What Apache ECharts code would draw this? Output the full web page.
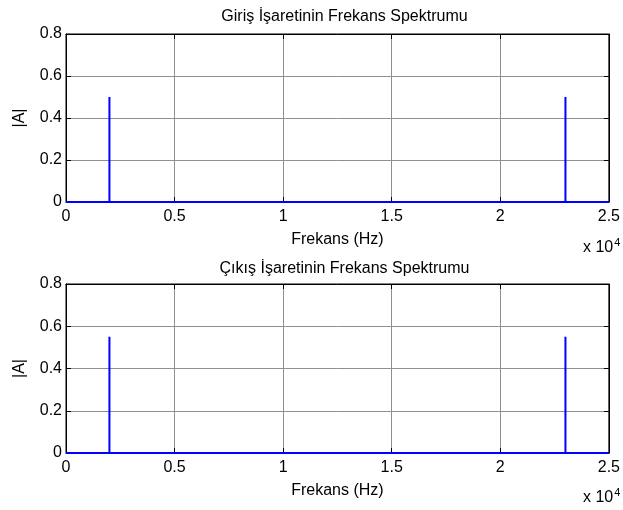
<!DOCTYPE html>
<html>
<head>
<meta charset="utf-8">
<script src="https://cdn.jsdelivr.net/npm/echarts@6/dist/echarts.min.js"></script>
<style>html,body{margin:0;padding:0;background:#fff;}#c{width:623px;height:510px;}</style>
</head>
<body>
<div id="c"></div>
<script>
// Data (frequency in Hz, amplitude |A|)
var titles = ['Giriş İşaretinin Frekans Spektrumu', 'Çıkış İşaretinin Frekans Spektrumu'];
var freqHz = [0, 2000, 2000, 2000, 23000, 23000, 23000, 25000];
var inputAmp = [0, 0, 0.5, 0, 0, 0.5, 0, 0];
var outputAmp = [0, 0, 0.55, 0, 0, 0.55, 0, 0];
var xTickLabels = ['0', '0.5', '1', '1.5', '2', '2.5'];
var yTickLabels = ['0', '0.2', '0.4', '0.6', '0.8'];
var xLabel = 'Frekans (Hz)';
var yLabel = '|A|';

function pairs(xs, ys) { return xs.map(function (x, i) { return [x, ys[i]]; }); }

var FONT = 'Liberation Sans, Arial, sans-serif';
var chart = echarts.init(document.getElementById('c'), null, { renderer: 'canvas' });

var grids = [
  { left: 66, right: 10, top: 34, height: 168 },
  { left: 66, right: 10, top: 284, height: 169 }
];
var xAxes = [], yAxes = [], series = [], graphics = [];
grids.forEach(function (g, gi) {
  g.show = true; g.borderColor = '#000'; g.borderWidth = 1; g.backgroundColor = '#fff';
  var tick = { show: true, inside: true, length: 5, lineStyle: { color: '#000' } };
  xAxes.push({
    type: 'value', gridIndex: gi, min: 0, max: 25000, interval: 5000, position: 'bottom',
    axisLine: { show: true, onZero: false, lineStyle: { color: '#000' } },
    axisTick: tick,
    axisLabel: { color: '#000', fontSize: 16, fontFamily: FONT, margin: 7,
      formatter: function (v) { return xTickLabels[Math.round(v / 5000)]; } },
    splitLine: { show: true, lineStyle: { color: '#8f8f8f', width: 1 } },
    name: xLabel, nameLocation: 'middle', nameGap: 30,
    nameTextStyle: { color: '#000', fontSize: 16, fontFamily: FONT }
  });
  xAxes.push({
    type: 'value', gridIndex: gi, min: 0, max: 25000, interval: 5000, position: 'top',
    axisLine: { show: true, onZero: false, lineStyle: { color: '#000' } },
    axisTick: tick, axisLabel: { show: false }, splitLine: { show: false }
  });
  yAxes.push({
    type: 'value', gridIndex: gi, min: 0, max: 0.8, interval: 0.2, position: 'left',
    axisLine: { show: true, onZero: false, lineStyle: { color: '#000' } },
    axisTick: tick,
    axisLabel: { color: '#000', fontSize: 16, fontFamily: FONT, margin: 4,
      formatter: function (v) { return yTickLabels[Math.round(v / 0.2)]; } },
    splitLine: { show: true, lineStyle: { color: '#8f8f8f', width: 1 } },
    name: yLabel, nameLocation: 'middle', nameGap: 38, nameRotate: 90,
    nameTextStyle: { color: '#000', fontSize: 16, fontFamily: FONT }
  });
  yAxes.push({
    type: 'value', gridIndex: gi, min: 0, max: 0.8, interval: 0.2, position: 'right',
    axisLine: { show: true, onZero: false, lineStyle: { color: '#000' } },
    axisTick: tick, axisLabel: { show: false }, splitLine: { show: false }
  });
  series.push({
    type: 'line', xAxisIndex: gi * 2, yAxisIndex: gi * 2, showSymbol: false, symbol: 'none',
    data: pairs(freqHz, gi === 0 ? inputAmp : outputAmp),
    lineStyle: { color: '#0000ff', width: 2 }, animation: false, z: 5
  });
  graphics.push({
    type: 'text', left: 583, top: gi === 0 ? 237 : 487,
    style: { text: 'x 10{s|4}', fill: '#000', font: '16px ' + FONT,
      rich: { s: { fontSize: 11, fontFamily: FONT, verticalAlign: 'top', padding: [0, 0, 10, 1] } } }
  });
});

chart.setOption({
  animation: false,
  backgroundColor: '#fff',
  title: titles.map(function (t, i) {
    return { text: t, left: 339.5, textAlign: 'center', top: i === 0 ? 4 : 256,
      textStyle: { color: '#000', fontSize: 16, fontWeight: 'normal', fontFamily: FONT } };
  }),
  grid: grids,
  xAxis: xAxes,
  yAxis: yAxes,
  series: series,
  graphic: graphics
});
</script>
</body>
</html>
